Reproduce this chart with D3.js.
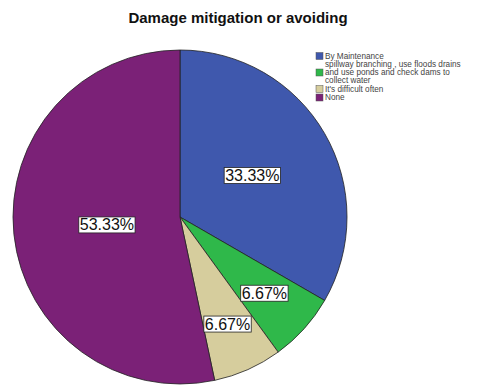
<!DOCTYPE html>
<html>
<head>
<meta charset="utf-8">
<script src="https://cdn.jsdelivr.net/npm/d3@7"></script>
<style>
  html, body { margin: 0; padding: 0; background: #fff; }
  svg { display: block; font-family: Arial, "Liberation Sans", sans-serif; }
</style>
</head>
<body>
<svg id="chart" width="482" height="388"></svg>
<script>
// Responses to "Damage mitigation or avoiding"
const categories = [
  "By Maintenance",
  "spillway branching , use floods drains and use ponds and check dams to collect water",
  "It's difficult often",
  "None"
];
const legendLines = [
  ["By Maintenance"],
  ["spillway branching , use floods drains", "and use ponds and check dams to", "collect water"],
  ["It's difficult often"],
  ["None"]
];
const percents = [33.33, 6.67, 6.67, 53.33];
const colors = ["#3f58ad", "#2fb84a", "#d6cd9d", "#7b2177"];

// label distance from centre, as a share of the radius, per slice
const labelRadius = [0.5, 0.68, 0.7, 0.44];

const svg = d3.select("#chart");
const cx = 180, cy = 217, r = 167;

svg.append("text")
  .attr("x", 238).attr("y", 23)
  .attr("text-anchor", "middle")
  .attr("font-size", 15).attr("font-weight", "bold")
  .attr("fill", "#111")
  .text("Damage mitigation or avoiding");

const pie = d3.pie().sort(null).value(d => d)(percents);
const arc = d3.arc().innerRadius(0).outerRadius(r);

const g = svg.append("g").attr("transform", `translate(${cx},${cy})`);
g.selectAll("path.slice").data(pie).join("path")
  .attr("class", "slice")
  .attr("d", arc)
  .attr("fill", (d, i) => colors[i])
  .attr("stroke", "#222").attr("stroke-width", 0.8);

// value labels in white boxes
pie.forEach((d, i) => {
  const a = (d.startAngle + d.endAngle) / 2;
  const rr = r * labelRadius[i];
  const x = Math.sin(a) * rr, y = -Math.cos(a) * rr;
  const lg = g.append("g").attr("transform", `translate(${x},${y})`);
  const t = lg.append("text")
    .attr("text-anchor", "middle").attr("dy", "0.36em")
    .attr("font-size", 16).attr("fill", "#111")
    .text(d3.format(".2f")(percents[i]) + "%");
  const bb = t.node().getBBox();
  lg.insert("rect", "text")
    .attr("x", bb.x - 1).attr("y", bb.y + 0.5)
    .attr("width", bb.width + 2).attr("height", bb.height - 1)
    .attr("fill", "#fff").attr("stroke", "#222").attr("stroke-width", 0.8);
});

// legend
const lx = 316, lineH = 8;
let ly = 56;
legendLines.forEach((lines, i) => {
  const n = lines.length;
  const midY = ly + (n - 1) * lineH / 2;
  svg.append("rect")
    .attr("x", lx).attr("y", midY - 3.5)
    .attr("width", 7).attr("height", 7)
    .attr("fill", colors[i]).attr("stroke", "#555").attr("stroke-width", 0.5);
  lines.forEach((s, j) => {
    svg.append("text")
      .attr("x", lx + 9).attr("y", ly + j * lineH)
      .attr("dy", "0.35em")
      .attr("font-size", 8.2).attr("fill", "#444")
      .text(s);
  });
  ly += n * lineH + 0.5;
});
</script>
</body>
</html>
